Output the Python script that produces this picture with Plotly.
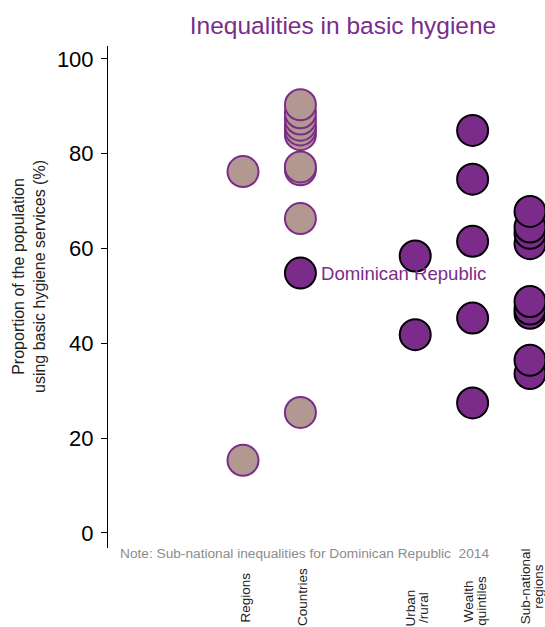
import plotly.graph_objects as go

# ---- data ----
categories = ["Regions", "Countries", "gap", "Urban/rural", "Wealth quintiles", "Sub-national regions"]
category_label_lines = [["Regions"], ["Countries"], [], ["Urban", "/rural"],
                        ["Wealth", "quintiles"], ["Sub-national", "regions"]]

regions_vals = [76.2, 15.3]
countries_vals = [90.3, 88.6, 87.3, 86.0, 85.0, 84.0, 77.2, 76.6, 66.3, 25.4]
dr_country_value = 54.8
urban_rural_vals = [58.4, 41.8]
wealth_vals = [84.9, 74.6, 61.5, 45.3, 27.4]
subnational_vals = [67.8, 64.5, 63.2, 61.0, 48.8, 47.2, 46.3, 36.4, 33.6]

y_ticks = [0, 20, 40, 60, 80, 100]

title_text = "Inequalities in basic hygiene"
y_title = "Proportion of the population<br>using basic hygiene services (%)"
note_text = "Note: Sub-national inequalities for Dominican Republic\u00a0\u00a02014"
dr_label = "Dominican Republic"

# ---- styles ----
PURPLE = "#7b2c8b"
TAN = "#b39891"
FONT = "Liberation Sans, Arial, sans-serif"
MSIZE = 31

fig = go.Figure()

def add_group(cat, vals, fill, outline):
    v = sorted(vals)
    fig.add_trace(go.Scatter(
        x=[cat] * len(v), y=v, mode="markers",
        marker=dict(size=MSIZE, color=fill, line=dict(color=outline, width=2)),
        cliponaxis=False, showlegend=False, hoverinfo="y"))

add_group("Regions", regions_vals, TAN, PURPLE)
add_group("Countries", countries_vals, TAN, PURPLE)
add_group("Countries", [dr_country_value], PURPLE, "black")
add_group("Urban/rural", urban_rural_vals, PURPLE, "black")
add_group("Wealth quintiles", wealth_vals, PURPLE, "black")
add_group("Sub-national regions", subnational_vals, PURPLE, "black")

# body margin is removed in post_script, so figure pixels == window pixels
W, H = 545, 627
AX_LEFT, AX_TOP, AX_BOTTOM = 108, 46, 548
L, T, B, R = AX_LEFT, AX_TOP, H - AX_BOTTOM, 0
pw, ph = W - L - R, H - T - B

def px_x(p):
    return (p - AX_LEFT) / pw

def px_y(p):
    return (AX_BOTTOM - p) / ph

annotations = []
# category labels (rotated, one annotation per line for tight line spacing)
label_center_y = {"Regions": 597.5, "Countries": 596.5, "Urban/rural": 607.5,
                  "Wealth quintiles": 601, "Sub-national regions": 586.5}
LINE_GAP = 12.5
for cat, lines in zip(categories, category_label_lines):
    n = len(lines)
    for i, line in enumerate(lines):
        shift = 2 + (i - (n - 1) / 2) * LINE_GAP
        annotations.append(dict(
            x=cat, xref="x", y=px_y(label_center_y[cat]), yref="paper", text=line,
            textangle=-90, xanchor="center", yanchor="middle", xshift=shift,
            showarrow=False, font=dict(family=FONT, size=13.5, color="#222222")))

# DR label
annotations.append(dict(
    x="Countries", y=dr_country_value, xref="x", yref="y", text=dr_label,
    xanchor="left", yanchor="middle", xshift=19, showarrow=False,
    font=dict(family=FONT, size=18.6, color=PURPLE)))

# note
annotations.append(dict(
    x=px_x(118), y=px_y(553), xref="paper", yref="paper", text=note_text,
    xanchor="left", yanchor="middle", showarrow=False,
    font=dict(family=FONT, size=13.7, color="#8c8c8c")))

# y title
annotations.append(dict(
    x=px_x(29), y=px_y(277), xref="paper", yref="paper", text=y_title,
    textangle=-90, xanchor="center", yanchor="middle", showarrow=False,
    font=dict(family=FONT, size=16, color="#222222")))

fig.update_layout(
    width=W, height=H,
    margin=dict(l=L, r=R, t=T, b=B, pad=0),
    paper_bgcolor="white", plot_bgcolor="white",
    title=dict(text=title_text, x=px_x(343), xref="paper", xanchor="center",
               y=1 - 25 / H, yref="container", yanchor="middle",
               font=dict(family=FONT, size=24.5, color=PURPLE)),
    xaxis=dict(type="category", categoryorder="array", categoryarray=categories,
               range=[-2.352, 5.261], showticklabels=False, showline=False,
               showgrid=False, zeroline=False, ticks=""),
    yaxis=dict(range=[-3.2, 102.7], tickvals=y_ticks, ticks="outside", ticklen=6,
               ticklabelstandoff=3,
               tickcolor="black", showline=True, linecolor="black", linewidth=1,
               showgrid=False, zeroline=False,
               tickfont=dict(family=FONT, size=22, color="black")),
    annotations=annotations,
    showlegend=False,
)

fig.write_html("out.html",
               config={"displayModeBar": False},
               post_script="document.body.style.margin='0';"
                           "document.documentElement.style.overflow='hidden';")
